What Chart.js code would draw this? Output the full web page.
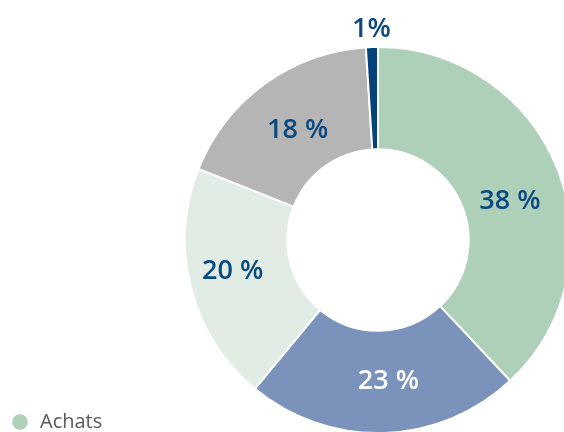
<!DOCTYPE html>
<html>
<head>
<meta charset="utf-8">
<script src="https://cdn.jsdelivr.net/npm/chart.js@4"></script>
<style>
  html, body { margin: 0; padding: 0; background: #fff; overflow: hidden; width: 564px; height: 432px; }
  #wrap { position: absolute; left: 0; top: -82px; width: 571px; height: 644px; }
</style>
</head>
<body>
<div id="wrap"><canvas id="chargesChart" width="571" height="644"></canvas></div>
<script>
// Répartition
const categories = ["Achats", "Charges de personnel", "Services extérieurs", "Impôts et taxes", "Autres charges"];
const shares = [38, 23, 20, 18, 1]; // %
const sliceColors = ["#aecfb8", "#7b93bb", "#e1ece4", "#b5b5b5", "#05427c"];
const labelColors = ["#0b4a80", "#ffffff", "#0b4a80", "#0b4a80", "#0b4a80"];
// small hand nudges for the label placement (px)
const labelNudge = [[0, 14], [6, 0], [-8, -4], [3, 5], [0, 0]];

// Percentage labels drawn on (or above, for tiny) slices
const sliceLabels = {
  id: "sliceLabels",
  afterDatasetsDraw(chart) {
    const ctx = chart.ctx;
    const meta = chart.getDatasetMeta(0);
    ctx.save();
    ctx.font = "600 27px 'Open Sans'";
    ctx.textAlign = "center";
    ctx.textBaseline = "middle";
    meta.data.forEach((arc, i) => {
      const v = shares[i];
      let pos;
      let text = v + " %";
      if (v < 3) {
        const p = arc.getProps(["x", "y", "startAngle", "endAngle", "outerRadius"], true);
        const mid = (p.startAngle + p.endAngle) / 2;
        const r = p.outerRadius + 18;
        pos = { x: p.x + Math.cos(mid) * r, y: p.y + Math.sin(mid) * r };
        text = v + "%";
      } else {
        pos = arc.getCenterPoint(true);
      }
      ctx.fillStyle = labelColors[i];
      ctx.fillText(text, pos.x + labelNudge[i][0], pos.y + labelNudge[i][1]);
    });
    ctx.restore();
  },
};

const chargesCtx = document.getElementById("chargesChart").getContext("2d");
const chargesChart = new Chart(chargesCtx, {
  type: "doughnut",
  data: {
    labels: categories,
    datasets: [
      {
        data: shares,
        backgroundColor: sliceColors,
        borderColor: "#ffffff",
        borderWidth: 2,
        radius: 193,
      },
    ],
  },
  options: {
    responsive: false,
    animation: false,
    cutout: "47%",
    layout: { padding: 0 },
    plugins: {
      legend: {
        position: "left",
        align: "end",
        maxWidth: 185,
        labels: {
          usePointStyle: true,
          pointStyle: "circle",
          boxWidth: 20,
          boxHeight: 12.5,
          padding: 10,
          color: "#595959",
          font: { family: "'Open Sans'", size: 20 },
        },
      },
      tooltip: { enabled: false },
    },
  },
  plugins: [sliceLabels],
});
</script>
</body>
</html>
